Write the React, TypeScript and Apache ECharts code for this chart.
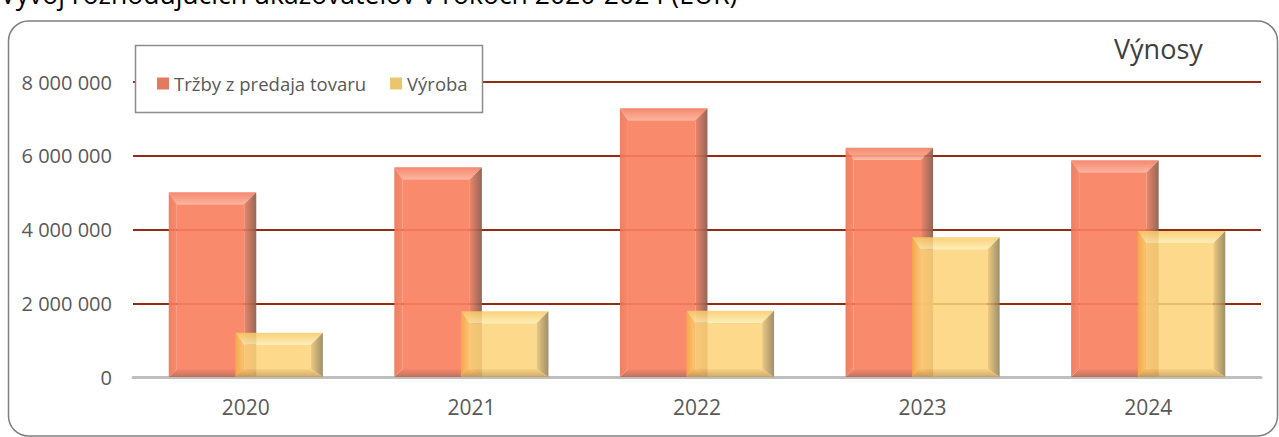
import React, { useEffect, useRef } from 'react';
import * as echarts from 'echarts';

const years = ['2020', '2021', '2022', '2023', '2024'];
const trzby = [5010000, 5690000, 7290000, 6220000, 5880000];
const vyroba = [1200000, 1780000, 1800000, 3790000, 3960000];
const seriesNames = ['Tržby z predaja tovaru', 'Výroba'];
const titleText = 'Vývoj rozhodujúcich ukazovateľov v rokoch 2020-2024 (EUR)';
const cornerText = 'Výnosy';

const FONT = "'Open Sans', 'DejaVu Sans', sans-serif";
const BAR_W_FRAC = 0.388;
const OFFSET_FRAC = 0.1476;

type Pal = {
  base: string; top: [string, string]; right: [string, string];
  left: [string, string]; bottom: [string, string]; opacity: number;
};

const redPal: Pal = {
  base: '#F8805F',
  top: ['#F27E62', '#FDAE96'],
  right: ['#EA7A5E', '#8A5A4A'],
  left: ['#EC7456', '#F8805F'],
  bottom: ['#F47E60', '#BC6650'],
  opacity: 0.92,
};
const yellowPal: Pal = {
  base: '#FCD378',
  top: ['#F8C964', '#FEEBAA'],
  right: ['#EAC26C', '#8F7C52'],
  left: ['#F3AC45', '#FBCD70'],
  bottom: ['#F8CA6C', '#C69E55'],
  opacity: 0.86,
};

const lg = (x2: number, y2: number, c: [string, string]) =>
  new echarts.graphic.LinearGradient(0, 0, x2, y2, [
    { offset: 0, color: c[0] },
    { offset: 1, color: c[1] },
  ]);

const makeRender = (pal: Pal, off: number) => (params: any, api: any) => {
  const idx = api.value(0);
  const val = api.value(1);
  const band = api.size([1, 0])[0];
  const topPt = api.coord([idx, val]);
  const basePt = api.coord([idx, 0]);
  const w = band * BAR_W_FRAC;
  const cx = topPt[0] + band * off;
  const x = cx - w / 2;
  const y = topPt[1];
  const h = basePt[1] - topPt[1];
  const bt = Math.min(12, h / 2);
  const bb = Math.min(8, h / 2);
  const bl = 8;
  const br = 12;
  const op = pal.opacity;
  return {
    type: 'group',
    children: [
      { type: 'rect', shape: { x: x + bl, y: y + bt, width: w - bl - br, height: h - bt - bb }, style: { fill: pal.base, opacity: op } },
      { type: 'polygon', shape: { points: [[x, y], [x + w, y], [x + w - br, y + bt], [x + bl, y + bt]] }, style: { fill: lg(0, 1, pal.top), opacity: op } },
      { type: 'polygon', shape: { points: [[x + w, y], [x + w, y + h], [x + w - br, y + h - bb], [x + w - br, y + bt]] }, style: { fill: lg(1, 0, pal.right), opacity: op } },
      { type: 'polygon', shape: { points: [[x, y + h], [x + w, y + h], [x + w - br, y + h - bb], [x + bl, y + h - bb]] }, style: { fill: lg(0, 1, pal.bottom), opacity: op } },
      { type: 'polygon', shape: { points: [[x, y], [x, y + h], [x + bl, y + h - bb], [x + bl, y + bt]] }, style: { fill: lg(1, 0, pal.left), opacity: op } },
    ],
  };
};

const fmt = (v: number) => String(v).replace(/\B(?=(\d{3})+(?!\d))/g, ' ');

export default function App() {
  const ref = useRef<HTMLDivElement>(null);
  useEffect(() => {
    document.body.style.margin = '0';
    if (!ref.current) return;
    const chart = echarts.init(ref.current, undefined, { renderer: 'svg' });
    chart.setOption({
      animation: false,
      backgroundColor: '#ffffff',
      textStyle: { fontFamily: FONT },
      grid: { left: 133, right: 18, top: 82, bottom: 60, containLabel: false },
      legend: {
        left: 152,
        top: 69,
        itemWidth: 12,
        itemHeight: 12,
        itemGap: 24,
        icon: 'rect',
        z: 20,
        textStyle: { fontSize: 18.5, color: '#595959', fontFamily: FONT },
        data: [
          { name: seriesNames[0], itemStyle: { color: '#E27A60' } },
          { name: seriesNames[1], itemStyle: { color: '#EDC46E' } },
        ],
      },
      xAxis: {
        type: 'category',
        data: years,
        boundaryGap: true,
        axisTick: { show: false },
        axisLine: { show: true, lineStyle: { color: '#BFBFBF', width: 3 } },
        axisLabel: { fontSize: 21, color: '#595959', margin: 19, fontFamily: FONT },
      },
      yAxis: {
        type: 'value',
        min: 0,
        max: 8000000,
        interval: 2000000,
        axisLine: { show: false },
        axisTick: { show: false },
        splitLine: { show: true, lineStyle: { color: '#952B13', width: 1.8 } },
        axisLabel: { fontSize: 20, color: '#595959', margin: 21, fontFamily: FONT, formatter: (v: number) => fmt(v) },
      },
      graphic: [
        {
          type: 'rect',
          z: 1,
          shape: { x: 8.5, y: 21, width: 1269, height: 415, r: 20 },
          style: { fill: 'none', stroke: '#7F7F7F', lineWidth: 1.5 },
          silent: true,
        },
        {
          type: 'rect',
          z: 10,
          shape: { x: 135.5, y: 45.5, width: 347, height: 67 },
          style: { fill: '#ffffff', stroke: '#8C8C8C', lineWidth: 1.5 },
          silent: true,
        },
        {
          type: 'text',
          z: 10,
          x: 0,
          y: -6,
          style: { text: titleText, font: `26.5px ${FONT}`, fill: '#000000', verticalAlign: 'middle', align: 'left' },
        },
        {
          type: 'text',
          z: 10,
          x: 1114,
          y: 48,
          style: { text: cornerText, font: `27px ${FONT}`, fill: '#404040', verticalAlign: 'middle', align: 'left' },
        },
      ],
      series: [
        {
          name: seriesNames[0],
          type: 'custom',
          itemStyle: { color: '#E27A60' },
          encode: { x: 0, y: 1 },
          data: trzby.map((v, i) => [i, v]),
          renderItem: makeRender(redPal, -OFFSET_FRAC),
          z: 3,
        },
        {
          name: seriesNames[1],
          type: 'custom',
          itemStyle: { color: '#EDC46E' },
          encode: { x: 0, y: 1 },
          data: vyroba.map((v, i) => [i, v]),
          renderItem: makeRender(yellowPal, OFFSET_FRAC),
          z: 4,
        },
      ],
    });
    return () => chart.dispose();
  }, []);
  return <div ref={ref} style={{ width: 1279, height: 437 }} />;
}
